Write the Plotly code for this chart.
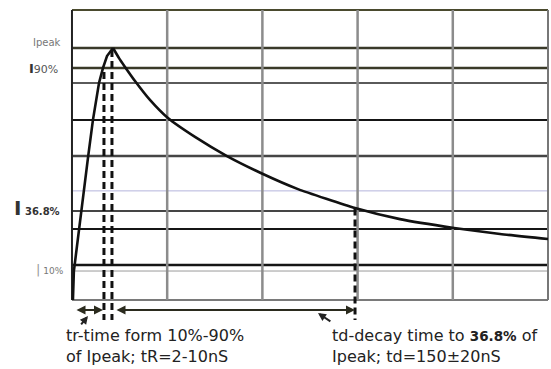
import plotly.graph_objects as go

# ---- data (time in chart units, current in % of Ipeak) ----
rise_t = [1, 2, 17, 22, 28.4, 32.6, 36.8, 43.1]
rise_i = [0, 11.5, 57, 71.4, 86.1, 92.1, 96.8, 100]
decay_t = [43.1, 49.4, 55.7, 66.2, 81.9, 100.8, 129.2, 162.8, 200.6, 237.4, 297.3, 344.5, 401.3, 449.6, 500]
decay_i = [100, 96.0, 92.5, 86.9, 79.4, 72.2, 64.7, 57.1, 50.0, 44.0, 36.5, 32.1, 28.6, 26.2, 24.2]

h_levels = [115.1, 100, 92.1, 86.1, 71.4, 57.1, 43.3, 35.3, 28.2, 13.9, 11.5, 0]
v_levels = [0, 100, 200, 300, 400, 500]

t10, t90, tpk, td = 33.6, 42.0, 45.2, 297.3
i90_top, ipk_top, i368 = 90.5, 99.2, 36.3

# ---- styles ----
h_styles = [("#4a4a2e", 2), ("#3a3a2a", 2.5), ("#3a3a28", 2.5), ("#5a5a5a", 2),
            ("#151515", 2), ("#454545", 2.5), ("#b4b4dc", 1), ("#454545", 2),
            ("#151515", 2), ("#151515", 2.5), ("#9a9a9a", 1), ("#7a7a7a", 2)]
v_styles = [("#222222", 2), ("#8c8c8c", 2.5), ("#8c8c8c", 2.5), ("#8c8c8c", 2.5),
            ("#8c8c8c", 2.5), ("#777777", 2)]

fig = go.Figure()
shapes = []
for lv, (c, w) in zip(h_levels, h_styles):
    shapes.append(dict(type="line", xref="x", yref="y", x0=v_levels[0], x1=v_levels[-1],
                       y0=lv, y1=lv, line=dict(color=c, width=w), layer="below"))
for lv, (c, w) in zip(v_levels, v_styles):
    shapes.append(dict(type="line", xref="x", yref="y", x0=lv, x1=lv,
                       y0=h_levels[-1], y1=h_levels[0], line=dict(color=c, width=w), layer="below"))

# dashed markers
dash = "7px,4px"
for x, ytop in [(t10, i90_top), (t90, ipk_top), (td, i368)]:
    fig.add_trace(go.Scatter(x=[x, x], y=[ytop, -7.9], mode="lines",
                             line=dict(color="#111111", width=3, dash=dash),
                             hoverinfo="skip", showlegend=False))

fig.add_trace(go.Scatter(x=rise_t, y=rise_i, mode="lines", line=dict(color="#111111", width=2.6),
                         hoverinfo="skip", showlegend=False))
fig.add_trace(go.Scatter(x=decay_t, y=decay_i, mode="lines",
                         line=dict(color="#111111", width=2.6, shape="spline", smoothing=0.5),
                         hoverinfo="skip", showlegend=False))

ann = []
arrow_y = -4.0
# double headed arrows
for xa, xb in [(3.2, 32.6), (tpk, td)]:
    ann.append(dict(x=xb, y=arrow_y, ax=xa, ay=arrow_y, xref="x", yref="y", axref="x", ayref="y",
                    text="", showarrow=True, arrowhead=2, arrowsize=0.9, arrowwidth=2,
                    arrowcolor="#2b2b1e", arrowside="end+start", startarrowhead=2, startarrowsize=0.9))
# pointer arrows
for (x0, y0), (x1, y1) in [((8.4, -10.3), (16.8, -6.3)), ((273, -8.9), (258.4, -5.2))]:
    ann.append(dict(x=x1, y=y1, ax=x0, ay=y0, xref="x", yref="y", axref="x", ayref="y",
                    text="", showarrow=True, arrowhead=2, arrowsize=0.8, arrowwidth=2, arrowcolor="#222222"))

font = dict(family="DejaVu Sans", size=16, color="#222222")
texts = [
    (-7.4, -18.3, "tr-time form 10%-90%<br>of Ipeak; tR=2-10nS"),
    (272.0, -18.3, "td-decay time to <b><span style='font-size:13.5px'>36.8%</span></b> of<br>Ipeak; td=150±20nS"),
]
for x, y, t in texts:
    ann.append(dict(x=x, y=y, xref="x", yref="y", text=t, showarrow=False, align="left",
                    xanchor="left", yanchor="middle", font=font, borderpad=0))

small = dict(family="DejaVu Sans", size=10, color="#777777")
ann.append(dict(x=-9.5, y=102.0, xref="x", yref="y", text="Ipeak", showarrow=False,
                xanchor="right", yanchor="middle", font=small))
ann.append(dict(x=-47.6, y=91.7, xref="x", yref="y",
                text="<b><span style='font-size:13px;color:#333'>I</span></b><span style='color:#555'>90%</span>",
                showarrow=False, xanchor="left", yanchor="middle",
                font=dict(family="DejaVu Sans", size=11, color="#555")))
ann.append(dict(x=-63.5, y=36.5, xref="x", yref="y",
                text="<b><span style='font-size:20px'>I</span></b><b><span style='font-size:10px'> 36.8%</span></b>",
                showarrow=False, xanchor="left", yanchor="middle",
                font=dict(family="DejaVu Sans", size=12, color="#333333")))
ann.append(dict(x=-39.9, y=12.3, xref="x", yref="y",
                text="<span style='font-size:13px;color:#999'>|</span><span style='font-size:9px'> 10%</span>",
                showarrow=False, xanchor="left", yanchor="middle",
                font=dict(family="DejaVu Sans", size=9, color="#777777")))

fig.update_layout(
    width=551, height=369, margin=dict(l=0, r=0, t=0, b=0),
    paper_bgcolor="white", plot_bgcolor="white",
    shapes=shapes, annotations=ann,
    xaxis=dict(range=[-75.6, 503.15], visible=False, fixedrange=True),
    yaxis=dict(range=[-27.38, 119.05], visible=False, fixedrange=True),
)
fig.write_html("out.html")
